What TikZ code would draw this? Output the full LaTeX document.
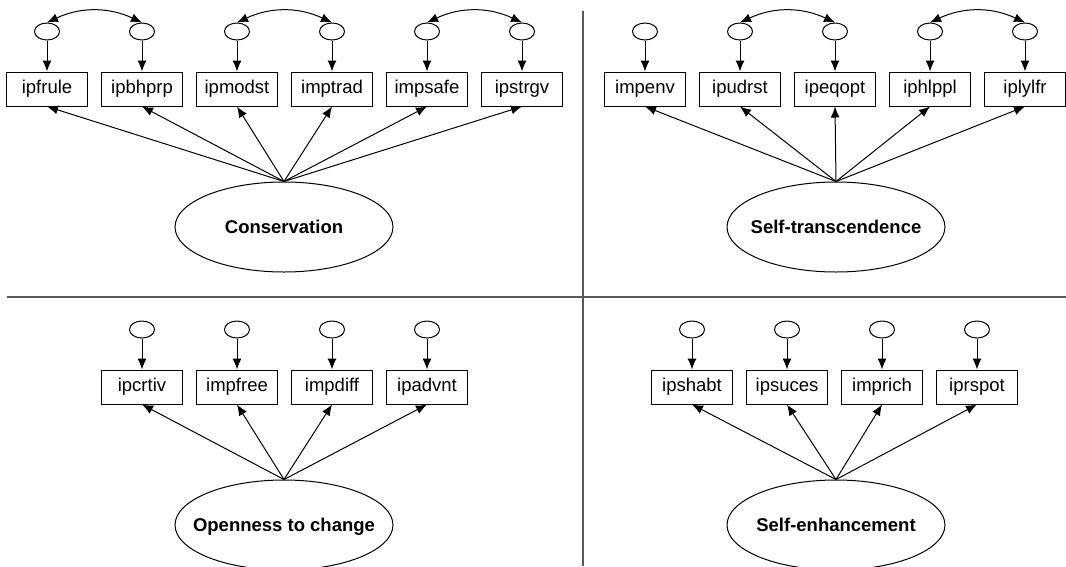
\documentclass[tikz,border=0pt]{standalone}
\usepackage{fontspec}
\setmainfont{Liberation Sans}
\usetikzlibrary{arrows.meta,positioning,shapes.geometric}

\begin{document}
\begin{tikzpicture}[
    x=1pt, y=-1pt,
    node distance=13pt,
    font=\fontsize{18.5}{22}\selectfont,
    box/.style={draw, line width=1pt, minimum width=81pt, minimum height=34pt, inner sep=0pt},
    err/.style={draw, ellipse, line width=1pt, minimum width=25pt, minimum height=17pt, inner sep=0pt},
    latent/.style={draw, ellipse, line width=1pt, minimum width=218pt, minimum height=90pt, inner sep=0pt, text height=13pt, text depth=0pt, font=\fontsize{18.5}{22}\selectfont\bfseries},
    arrow/.style={-{Latex[length=11pt, width=9pt]}, line width=1pt},
    corr/.style={{Latex[length=11pt, width=9pt]}-{Latex[length=11pt, width=9pt]}, line width=1pt, bend left=25},
    rule/.style={draw=black!65, line width=1.5pt}
]
\useasboundingbox (0,0) rectangle (1066,566);

% panel separators
\draw[rule] (583,11) -- (583,566);
\draw[rule] (7,297) -- (1066,297);

% Conservation
\node[box] (ipfrule) at (47,89) {ipfrule};
\node[box, right=of ipfrule] (ipbhprp) {ipbhprp};
\node[box, right=of ipbhprp] (ipmodst) {ipmodst};
\node[box, right=of ipmodst] (imptrad) {imptrad};
\node[box, right=of imptrad] (impsafe) {impsafe};
\node[box, right=of impsafe] (ipstrgv) {ipstrgv};
\node[err, above=31pt of ipfrule] (ipfrule-e) {} edge[arrow] (ipfrule);
\node[err, above=31pt of ipbhprp] (ipbhprp-e) {} edge[arrow] (ipbhprp);
\node[err, above=31pt of ipmodst] (ipmodst-e) {} edge[arrow] (ipmodst);
\node[err, above=31pt of imptrad] (imptrad-e) {} edge[arrow] (imptrad);
\node[err, above=31pt of impsafe] (impsafe-e) {} edge[arrow] (impsafe);
\node[err, above=31pt of ipstrgv] (ipstrgv-e) {} edge[arrow] (ipstrgv);
\draw[corr] (ipfrule-e.north) to (ipbhprp-e.north);
\draw[corr] (ipmodst-e.north) to (imptrad-e.north);
\draw[corr] (impsafe-e.north) to (ipstrgv-e.north);
\node[latent] (cons) at (284,227) {\makebox[0pt]{Conservation}};
\path (cons.north) edge[arrow] (ipfrule.south) edge[arrow] (ipbhprp.south)
    edge[arrow] (ipmodst.south) edge[arrow] (imptrad.south)
    edge[arrow] (impsafe.south) edge[arrow] (ipstrgv.south);

% Self-transcendence
\node[box] (impenv) at (645,89) {impenv};
\node[box, right=of impenv] (ipudrst) {ipudrst};
\node[box, right=of ipudrst] (ipeqopt) {ipeqopt};
\node[box, right=of ipeqopt] (iphlppl) {iphlppl};
\node[box, right=of iphlppl] (iplylfr) {iplylfr};
\node[err, above=31pt of impenv] (impenv-e) {} edge[arrow] (impenv);
\node[err, above=31pt of ipudrst] (ipudrst-e) {} edge[arrow] (ipudrst);
\node[err, above=31pt of ipeqopt] (ipeqopt-e) {} edge[arrow] (ipeqopt);
\node[err, above=31pt of iphlppl] (iphlppl-e) {} edge[arrow] (iphlppl);
\node[err, above=31pt of iplylfr] (iplylfr-e) {} edge[arrow] (iplylfr);
\draw[corr] (ipudrst-e.north) to (ipeqopt-e.north);
\draw[corr] (iphlppl-e.north) to (iplylfr-e.north);
\node[latent] (selftr) at (836,227) {\makebox[0pt]{Self-transcendence}};
\path (selftr.north) edge[arrow] (impenv.south) edge[arrow] (ipudrst.south)
    edge[arrow] (ipeqopt.south) edge[arrow] (iphlppl.south)
    edge[arrow] (iplylfr.south);

% Openness to change
\node[box] (ipcrtiv) at (142,387) {ipcrtiv};
\node[box, right=of ipcrtiv] (impfree) {impfree};
\node[box, right=of impfree] (impdiff) {impdiff};
\node[box, right=of impdiff] (ipadvnt) {ipadvnt};
\node[err, above=31pt of ipcrtiv] (ipcrtiv-e) {} edge[arrow] (ipcrtiv);
\node[err, above=31pt of impfree] (impfree-e) {} edge[arrow] (impfree);
\node[err, above=31pt of impdiff] (impdiff-e) {} edge[arrow] (impdiff);
\node[err, above=31pt of ipadvnt] (ipadvnt-e) {} edge[arrow] (ipadvnt);
\node[latent] (open) at (284,525) {\makebox[0pt]{Openness to change}};
\path (open.north) edge[arrow] (ipcrtiv.south) edge[arrow] (impfree.south)
    edge[arrow] (impdiff.south) edge[arrow] (ipadvnt.south);

% Self-enhancement
\node[box] (ipshabt) at (692,387) {ipshabt};
\node[box, right=of ipshabt] (ipsuces) {ipsuces};
\node[box, right=of ipsuces] (imprich) {imprich};
\node[box, right=of imprich] (iprspot) {iprspot};
\node[err, above=31pt of ipshabt] (ipshabt-e) {} edge[arrow] (ipshabt);
\node[err, above=31pt of ipsuces] (ipsuces-e) {} edge[arrow] (ipsuces);
\node[err, above=31pt of imprich] (imprich-e) {} edge[arrow] (imprich);
\node[err, above=31pt of iprspot] (iprspot-e) {} edge[arrow] (iprspot);
\node[latent] (selfenh) at (836,525) {\makebox[0pt]{Self-enhancement}};
\path (selfenh.north) edge[arrow] (ipshabt.south) edge[arrow] (ipsuces.south)
    edge[arrow] (imprich.south) edge[arrow] (iprspot.south);
\end{tikzpicture}
\end{document}
